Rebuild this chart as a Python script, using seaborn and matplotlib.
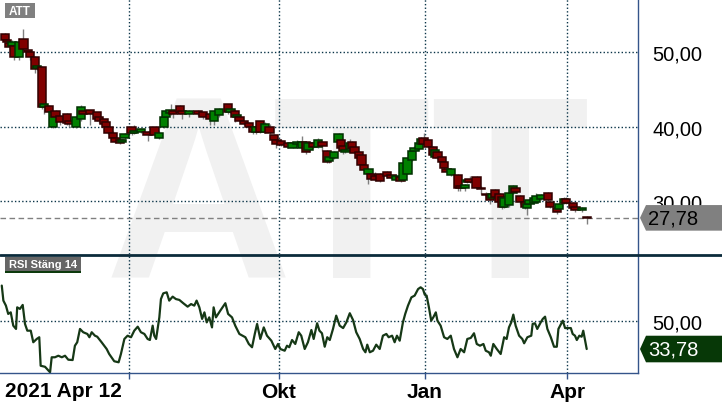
import numpy as np
import pandas as pd
import matplotlib
matplotlib.use('Agg')
import matplotlib.pyplot as plt
import seaborn as sns
from matplotlib.patches import Rectangle, Polygon
from matplotlib.lines import Line2D
from matplotlib.transforms import blended_transform_factory

# ---------------- data (trading-day index from 2021-04-12) ----------------
days = [0,1,2,3,4,6,8,10,11,13,14,16,17,19,21,22,24,27,28,31,33,34,37,40,41,43,44,45,47,48,
        50,51,52,55,56,59,62,65,67,69,70,72,73,76,77,80,84,86,89,91,93,97,98,100,101,102,104,106,108,109,
        111,113,115,117,118,120,123,125,127,129,131,132,134,136,138,140,141,143,145,146,147,148,150,151,152,154,155,156,158,159,
        161,163,166,168,170,172,173,175,177,178,180,181,182,184,186,187,188,190,191,192,194,197,198,200,201,202,205,207,209,211,
        212,213,215,216,217,219,221,222,224,226,227,228,230,231,233,236,237,240,241,243,244,247,248,251,253]
opens = [52.47,51.66,51.26,50.85,50.85,49.36,51.80,50.31,50.04,49.36,47.88,48.01,42.61,42.74,40.04,42.07,41.39,41.66,40.72,40.04,
         40.99,42.07,42.20,41.93,41.26,40.99,40.58,40.04,39.23,38.55,38.28,38.01,38.55,39.91,39.23,39.36,39.36,39.91,38.55,39.91,
         41.26,41.80,42.07,42.74,42.07,41.66,42.07,41.93,41.66,40.72,41.53,43.01,41.93,42.07,41.26,41.26,40.72,40.45,40.04,39.36,
         40.72,39.36,40.04,38.96,38.28,38.15,37.88,37.20,37.74,37.20,38.01,36.93,37.88,37.34,38.01,36.80,35.45,35.85,38.01,38.28,
         37.47,36.66,37.07,38.01,37.34,36.66,36.26,34.91,33.69,33.69,33.42,33.69,33.96,33.55,32.88,33.28,32.88,33.69,35.58,36.80,
         37.07,37.74,38.55,38.28,37.34,35.99,36.66,35.99,35.31,34.36,33.55,33.55,32.07,31.80,32.61,33.01,33.28,31.80,30.99,30.85,
         30.45,31.53,30.99,30.58,29.23,29.50,31.12,31.80,30.72,29.91,29.09,29.64,29.77,29.91,30.31,31.12,29.91,29.09,28.96,29.77,
         30.31,29.77,29.23,28.82,27.95]
closes = [51.66,51.39,50.72,51.39,49.36,51.39,50.45,50.04,49.36,47.74,48.15,42.61,43.01,41.93,41.93,41.26,40.58,40.45,40.31,41.26,
          42.61,41.66,41.66,40.99,40.72,40.31,39.91,39.23,38.55,38.01,37.88,38.28,39.09,39.23,39.50,39.64,38.96,38.96,39.23,41.26,
          42.07,42.20,41.66,41.93,41.66,42.07,41.66,41.26,40.99,42.07,42.34,41.93,42.34,41.26,41.53,40.72,40.31,39.91,39.36,40.04,
          39.36,40.31,39.23,38.28,37.74,37.61,37.34,37.88,38.01,38.01,36.66,37.88,37.34,38.28,37.47,35.31,35.99,36.66,39.09,37.20,
          36.80,36.93,37.88,37.20,36.53,35.85,34.91,34.23,34.36,33.01,32.88,32.74,33.42,33.15,33.42,32.74,35.18,35.85,36.80,37.20,
          37.88,38.42,37.74,37.34,36.26,36.93,35.85,35.31,34.50,33.96,34.36,31.80,31.80,32.20,32.88,32.61,31.80,31.66,30.85,30.18,
          30.99,30.58,29.91,29.23,30.45,31.12,32.07,31.26,29.91,29.23,29.64,30.18,30.45,30.72,30.85,30.18,29.23,28.55,29.64,30.31,
          29.77,29.09,28.82,29.09,27.78]
highs = [52.6,51.8,51.4,51.6,51.0,51.9,53.1,50.5,50.2,49.5,48.3,48.2,43.1,42.9,42.1,42.2,41.5,41.8,40.8,41.4,
         42.9,42.2,42.3,42.0,41.4,41.1,40.7,40.2,39.4,38.7,38.4,38.4,39.2,40.0,40.2,39.8,39.5,40.0,39.4,41.4,
         42.2,43.0,42.2,42.9,42.2,42.2,42.2,42.0,41.8,42.2,42.5,43.1,42.5,42.2,41.7,41.4,40.8,40.6,40.1,40.2,
         40.8,40.6,40.4,39.1,38.4,38.3,38.0,38.0,38.2,38.7,38.1,38.0,38.0,38.5,38.1,36.9,36.1,36.8,39.2,38.4,
         37.6,37.1,38.3,38.1,37.5,36.8,36.4,35.0,34.5,33.8,33.9,33.8,34.1,33.7,33.6,33.4,35.3,36.0,36.9,37.4,
         38.0,38.6,39.2,38.4,37.4,37.0,36.8,36.1,35.4,34.5,34.5,33.7,32.2,32.3,33.0,33.4,33.4,32.0,31.2,31.0,
         31.1,31.7,31.1,30.7,30.6,31.3,32.2,31.9,30.9,30.0,29.8,30.3,30.6,31.1,31.0,31.2,30.0,29.2,29.8,30.6,
         30.6,29.9,29.3,29.2,28.0]
lows = [51.5,51.2,50.5,50.6,48.9,49.0,50.3,49.8,49.0,47.2,47.6,42.4,41.7,41.7,39.9,41.0,40.3,40.2,40.0,39.9,
        40.8,41.4,40.3,40.8,40.5,40.1,39.7,39.0,38.3,37.8,37.7,37.9,38.2,38.9,39.0,39.2,38.1,38.8,38.4,39.8,
        40.0,41.6,41.2,41.7,41.0,41.3,41.5,41.0,40.3,40.3,41.3,41.7,41.8,40.6,41.1,40.6,40.2,39.8,39.1,39.1,
        39.2,39.2,39.1,38.1,37.1,37.4,37.2,37.1,37.6,37.0,36.3,36.6,37.2,37.1,36.8,35.1,35.2,35.7,37.9,37.0,
        36.4,36.5,36.9,37.0,36.4,35.7,34.8,34.1,32.3,32.9,32.7,32.6,33.1,33.0,32.8,32.6,32.7,33.6,35.4,36.6,
        36.9,37.6,37.6,37.2,35.9,35.8,35.7,35.2,34.4,33.8,33.4,31.4,31.4,31.4,32.5,32.5,31.6,31.0,30.6,29.6,
        30.3,30.4,29.6,29.0,29.1,29.3,31.0,31.1,29.7,29.0,28.1,29.5,29.6,29.8,30.2,30.0,29.1,28.3,28.8,29.7,
        29.6,28.9,28.5,28.6,26.95]

rsi_day = [-1.4,-0.7,0.4,1.4,2.5,3.6,4.8,5.3,6.5,7.7,8.7,9.7,11.2,12.3,13.8,14.9,15.5,17.4,19.6,20.3,
           21.7,23.2,24.7,26.1,27.5,29.4,30.4,31.4,32.6,34.0,35.8,36.7,37.7,39.1,40.1,42.0,44.2,45.3,47.5,49.4,
           50.4,51.9,53.3,54.8,56.2,57.7,59.1,60.6,62.0,63.0,64.2,64.9,65.7,67.1,67.8,68.8,70.3,71.4,72.9,74.3,
           75.8,77.5,79.4,80.9,82.3,83.3,84.5,85.7,86.7,87.7,88.8,90.0,90.7,91.7,93.6,95.8,97.0,98.7,100.1,101.9,
           104.5,106.0,107.4,108.6,109.6,111.0,112.5,113.9,115.8,117.5,118.7,119.7,121.6,122.6,123.6,124.8,126.2,127.7,128.8,130.3,
           131.7,133.2,134.2,135.7,136.7,137.8,139.0,140.1,141.2,142.6,144.0,145.5,147.0,148.4,149.9,151.3,152.7,154.2,155.7,156.7,
           157.5,158.6,160.0,161.4,162.9,164.3,165.8,166.8,168.3,169.4,170.4,171.6,173.0,174.0,175.2,176.7,178.1,179.6,180.7,181.7,
           182.5,183.3,184.3,185.3,186.2,187.3,188.0,189.4,190.9,192.3,193.8,195.2,196.7,198.1,199.6,201.0,202.5,203.9,205.1,206.5,
           208.0,209.0,210.4,211.2,212.3,213.8,215.5,217.0,218.1,219.1,220.1,221.0,222.0,223.5,224.9,225.7,227.1,228.8,229.4,230.4,
           231.4,232.9,233.8,234.8,235.8,237.3,238.7,239.9,240.6,242.5,243.5,244.9,246.0,246.8,247.8,248.6,249.7,250.7,251.4,252.9]
rsi_val = [70.5,61.8,58.9,54.1,55.0,47.3,45.4,57.9,57.0,59.3,48.3,44.4,44.4,37.7,39.6,40.6,24.1,23.5,20.3,29.0,
           29.0,29.9,29.0,29.9,27.6,27.4,35.7,37.7,45.4,43.5,42.5,40.6,43.5,41.5,40.9,37.7,33.8,30.9,26.7,26.1,
           30.9,39.6,41.5,40.6,44.4,46.7,43.5,42.5,39.6,39.0,47.3,41.5,39.6,52.1,62.7,66.0,66.6,61.8,64.1,62.7,
           62.2,60.3,58.3,59.8,58.9,61.8,57.9,51.2,55.0,49.2,52.1,46.3,57.9,52.1,56.0,60.3,54.1,52.1,47.3,42.5,
           40.6,36.7,34.8,42.5,48.3,39.6,46.3,41.5,38.6,33.8,36.7,33.8,32.8,35.7,34.8,39.0,36.7,43.5,41.5,33.8,
           37.7,44.8,39.6,48.7,44.4,42.9,35.1,40.6,39.0,45.4,53.1,47.3,45.9,49.2,54.5,50.6,43.5,39.6,33.8,31.9,
           36.3,31.9,32.8,36.3,33.8,41.5,42.5,40.6,41.5,37.7,41.5,38.6,49.2,54.1,58.9,63.7,64.7,68.5,69.5,68.5,
           65.2,64.7,57.9,50.2,52.1,55.0,50.2,47.3,40.6,39.6,41.5,33.8,29.0,33.8,31.9,39.6,40.2,42.9,36.7,35.7,
           36.7,32.8,31.9,29.9,36.7,33.8,30.9,40.6,39.6,46.3,49.2,53.7,47.3,41.5,39.6,37.1,40.6,41.5,48.3,48.7,
           45.4,49.2,51.2,52.5,45.4,40.6,35.1,35.1,45.4,50.2,45.9,45.9,45.9,42.5,41.5,39.0,41.5,40.9,44.4,33.78]

tick_days = [53.8, 119.0, 182.5, 244.5]
tick_labels = ['', 'Okt', 'Jan', 'Apr']
start_label = '2021 Apr 12'
price_ticks = [30, 40, 50]
rsi_ticks = [50]
symbol = 'ATT'
rsi_title = 'RSI Stäng 14'

assert len(rsi_day) == len(rsi_val), (len(rsi_day), len(rsi_val))
assert len(days) == len(opens) == len(closes) == len(highs) == len(lows)

# ---------------- styling ----------------
sns.set_theme(style='white')
plt.rcParams['font.family'] = ['Liberation Sans', 'DejaVu Sans']

W, H = 722, 410
fig = plt.figure(figsize=(W / 100, H / 100), dpi=100, facecolor='white')

def fx(x):
    return x / W

def fy(y):
    return 1 - y / H

GRID = '#0a3448'
SPINE = '#34548a'
fmt = lambda v: f"{v:.2f}".replace('.', ',')

# watermark
fig.text(fx(347), fy(278), symbol, fontsize=187, fontweight='bold', color='#f1f1f1',
         ha='center', va='baseline', zorder=-5)

ax = fig.add_axes([0, fy(255), fx(638), 255 / H])
ax_r = fig.add_axes([0, fy(374), fx(638), (374 - 256) / H], sharex=ax)
for a in (ax, ax_r):
    a.set_facecolor('none')
    for s in a.spines.values():
        s.set_visible(False)
    a.spines['right'].set_visible(True)
    a.spines['right'].set_color(SPINE)
    a.spines['right'].set_linewidth(1)
ax_r.spines['bottom'].set_visible(True)
ax_r.spines['bottom'].set_color(SPINE)
ax_r.spines['bottom'].set_linewidth(1)

# ---------------- candles ----------------
df = pd.DataFrame(dict(day=days, open=opens, high=highs, low=lows, close=closes))
up = (df['close'] >= df['open']).to_numpy()
ax.vlines(df['day'], df['low'], df['high'], color='#808080', lw=1, zorder=2)
body_bottom = np.minimum(df['open'], df['close'])
body_h = (df['close'] - df['open']).abs().clip(lower=0.1)
ax.bar(df['day'], body_h, bottom=body_bottom, width=3.6,
       color=np.where(up, '#008000', '#800000'),
       edgecolor=np.where(up, '#003000', '#300000'), linewidth=1.1, zorder=3)
ax.axhline(closes[-1], color='#808080', ls=(0, (4, 2.5)), lw=1, zorder=1)

ax.set_xlim(-2.17, 275.2)
ax.set_ylim(22.93, 57.15)
ax.set_yticks(price_ticks)
ax.set_yticklabels([fmt(v) for v in price_ticks])
ax.yaxis.tick_right()
ax.tick_params(axis='y', length=0, pad=10.5, labelsize=14.5, labelcolor='black')
ax.tick_params(axis='x', bottom=False, labelbottom=False)
ax.set_xticks(tick_days)
ax.grid(True, color=GRID, ls=(0, (1, 1.6)), lw=1)

# ---------------- RSI ----------------
sns.lineplot(x=rsi_day, y=rsi_val, ax=ax_r, color='#163816', lw=1.6, estimator=None, sort=False)
ax_r.set_ylim(19.9, 88.2)
ax_r.set_yticks(rsi_ticks)
ax_r.set_yticklabels([fmt(v) for v in rsi_ticks])
ax_r.yaxis.tick_right()
ax_r.tick_params(axis='y', length=0, pad=10.5, labelsize=14.5, labelcolor='black')
ax_r.set_xticks(tick_days)
ax_r.set_xticklabels(tick_labels, fontweight='bold')
ax_r.tick_params(axis='x', bottom=True, direction='out', length=4.5, width=1, color=SPINE,
                 labelsize=15, pad=2, labelcolor='black')
ax_r.grid(True, color=GRID, ls=(0, (1, 1.6)), lw=1)
ax_r.set_xlabel('')
ax_r.set_ylabel('')
ax.set_xlim(-2.17, 275.2)

ax_r.text(0, fy(392), start_label, transform=blended_transform_factory(ax_r.transData, fig.transFigure),
          ha='left', va='center', fontsize=15, fontweight='bold', color='black')

# separator line
fig.add_artist(Line2D([0, 1], [fy(255.5), fy(255.5)], transform=fig.transFigure,
                      color='#0b2b3b', lw=2, zorder=5))

# label boxes
fig.add_artist(Rectangle((fx(5), fy(19)), fx(30), 15 / H, transform=fig.transFigure,
                         fc='#808080', ec='none', zorder=4))
fig.text(fx(9), fy(11.7), symbol, color='white', fontsize=8.5, fontweight='bold',
         ha='left', va='center', zorder=6)
fig.add_artist(Rectangle((fx(5), fy(273)), fx(76), 15 / H, transform=fig.transFigure,
                         fc='#666666', ec='none', zorder=4))
fig.add_artist(Rectangle((fx(5), fy(274)), fx(76), 2.2 / H, transform=fig.transFigure,
                         fc='#0c3a0c', ec='none', zorder=5))
fig.text(fx(9), fy(265.5), rsi_title, color='white', fontsize=8, fontweight='bold',
         ha='left', va='center', zorder=6)

# value boxes on the right
fig.canvas.draw()

def value_box(axis, value, fc, tc, half=12.8):
    yd = axis.transData.transform((0, value))[1]
    ypix = H - yd
    pts = [(640, ypix), (646, ypix - half), (722, ypix - half), (722, ypix + half), (646, ypix + half)]
    fig.add_artist(Polygon([(fx(x), fy(y)) for x, y in pts], closed=True, transform=fig.transFigure,
                           fc=fc, ec='none', zorder=4))
    fig.text(fx(648), fy(ypix), fmt(value), color=tc, fontsize=14.5, ha='left', va='center', zorder=6)

value_box(ax, closes[-1], '#808080', 'black')
value_box(ax_r, rsi_val[-1], '#073807', 'white', half=13.3)

fig.savefig('out.png', dpi=100, facecolor='white')
